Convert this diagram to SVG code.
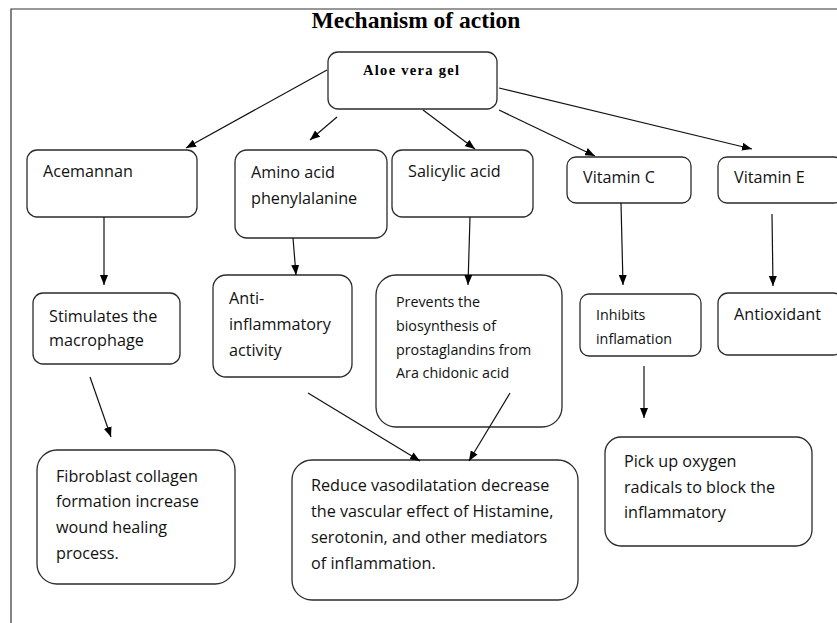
<svg xmlns="http://www.w3.org/2000/svg" width="837" height="623" viewBox="0 0 837 623">
<style>
.box{fill:#fff;stroke:#2b2b2b;stroke-width:1.3}
.t{font-family:"Open Sans",Lato,sans-serif;font-size:16.2px;fill:#111}
.s{font-family:"Open Sans",Lato,sans-serif;font-size:14.3px;fill:#111}
.b{font-family:"Liberation Serif","Times New Roman",serif;font-weight:bold;fill:#000}
.c line{stroke:#111;stroke-width:1.2;marker-end:url(#ah)}
</style>
<defs>
<marker id="ah" markerWidth="10" markerHeight="8" refX="10" refY="4" orient="auto" markerUnits="userSpaceOnUse"><path d="M0,0 L10,4 L0,8 z" fill="#000"/></marker>
</defs>
<rect width="837" height="623" fill="#fff"/>
<path d="M11,623 V9 H837" fill="none" stroke="#333" stroke-width="1.2"/>
<text class="b" x="416" y="28" font-size="23.5" text-anchor="middle">Mechanism of action</text>

<g id="aloe"><rect class="box" x="328" y="52" width="169" height="57" rx="10"/><text class="b" x="363" y="75" font-size="14.5" textLength="96">Aloe vera gel</text></g>
<g id="acemannan"><rect class="box" x="27" y="150" width="170" height="67" rx="10"/><text class="t" x="43" y="177">Acemannan</text></g>
<g id="amino"><rect class="box" x="235" y="150" width="152" height="88" rx="12"/><text class="t" x="251" y="178">Amino acid</text><text class="t" x="251" y="204">phenylalanine</text></g>
<g id="salicylic"><rect class="box" x="392" y="150" width="141" height="67" rx="10"/><text class="t" x="408" y="177">Salicylic  acid</text></g>
<g id="vitc"><rect class="box" x="567" y="157" width="124" height="46" rx="9"/><text class="t" x="583" y="183">Vitamin C</text></g>
<g id="vite"><rect class="box" x="718" y="157" width="125" height="46" rx="9"/><text class="t" x="734" y="183">Vitamin E</text></g>
<g id="stimulates"><rect class="box" x="33" y="293" width="147" height="71" rx="10"/><text class="t" x="49" y="322">Stimulates the</text><text class="t" x="49" y="346">macrophage</text></g>
<g id="anti"><rect class="box" x="213" y="275" width="139" height="102" rx="13"/><text class="t" x="229" y="304">Anti-</text><text class="t" x="229" y="330">inflammatory</text><text class="t" x="229" y="356">activity</text></g>
<g id="prevents"><rect class="box" x="376" y="275" width="186" height="152" rx="20"/><text class="s" x="396" y="307">Prevents the</text><text class="s" x="396" y="331">biosynthesis of</text><text class="s" x="396" y="355">prostaglandins  from</text><text class="s" x="396" y="378">Ara chidonic acid</text></g>
<g id="inhibits"><rect class="box" x="580" y="294" width="121" height="62" rx="9"/><text class="s" x="596" y="320">Inhibits</text><text class="s" x="596" y="344">inflamation</text></g>
<g id="antioxidant"><rect class="box" x="718" y="293" width="125" height="62" rx="10"/><text class="t" x="734" y="320">Antioxidant</text></g>
<g id="fibroblast"><rect class="box" x="37" y="450" width="198" height="134" rx="20"/><text class="t" x="56" y="482">Fibroblast collagen</text><text class="t" x="56" y="507">formation increase</text><text class="t" x="56" y="533">wound healing</text><text class="t" x="56" y="559">process.</text></g>
<g id="reduce"><rect class="box" x="292" y="460" width="286" height="140" rx="20"/><text class="t" x="311" y="491">Reduce vasodilatation decrease</text><text class="t" x="311" y="517">the vascular effect of Histamine,</text><text class="t" x="311" y="543">serotonin, and other mediators</text><text class="t" x="311" y="569">of inflammation.</text></g>
<g id="pickup"><rect class="box" x="605" y="437" width="207" height="109" rx="16"/><text class="t" x="624" y="467">Pick up oxygen</text><text class="t" x="624" y="493">radicals to block the</text><text class="t" x="624" y="518">inflammatory</text></g>

<g class="c" id="connectors">
<line x1="327" y1="70" x2="186" y2="148"/>
<line x1="337" y1="117" x2="310" y2="140"/>
<line x1="423" y1="110" x2="475" y2="149"/>
<line x1="499" y1="110" x2="595" y2="156"/>
<line x1="499" y1="88" x2="752" y2="149"/>
<line x1="104" y1="217" x2="104" y2="285"/>
<line x1="293" y1="238" x2="296" y2="275"/>
<line x1="470" y1="217" x2="468" y2="285"/>
<line x1="621" y1="203" x2="623" y2="285"/>
<line x1="772" y1="214" x2="773" y2="286"/>
<line x1="90" y1="377" x2="111" y2="437"/>
<line x1="308" y1="393" x2="420" y2="461"/>
<line x1="510" y1="393" x2="469" y2="461"/>
<line x1="644" y1="366" x2="644" y2="418"/>
</g>
</svg>
